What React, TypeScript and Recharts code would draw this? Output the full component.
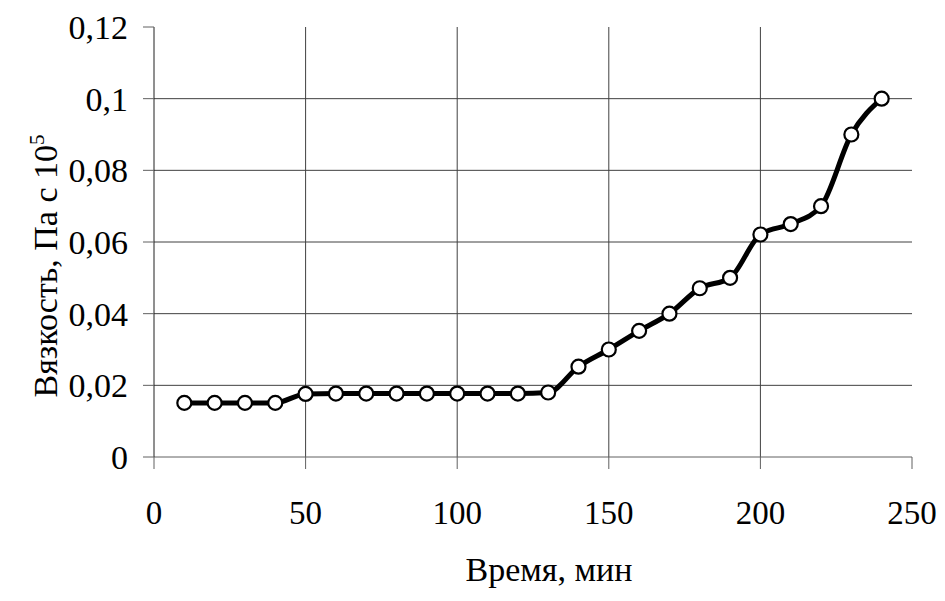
import React from "react";
import { LineChart, Line, XAxis, YAxis, CartesianGrid } from "recharts";

const timeMin = [10, 20, 30, 40, 50, 60, 70, 80, 90, 100, 110, 120, 130, 140, 150, 160, 170, 180, 190, 200, 210, 220, 230, 240];
const viscosity = [0.0151, 0.0151, 0.0151, 0.0151, 0.0176, 0.0177, 0.0177, 0.0177, 0.0177, 0.0177, 0.0177, 0.0177, 0.018, 0.0252, 0.03, 0.0352, 0.04, 0.0471, 0.05, 0.0621, 0.065, 0.07, 0.09, 0.1];
const xTicks = [0, 50, 100, 150, 200, 250];
const yTicks = [0, 0.02, 0.04, 0.06, 0.08, 0.1, 0.12];
const xGrid = [50, 100, 150, 200];
const yGrid = [0.02, 0.04, 0.06, 0.08, 0.1];
const xTitle = "Время, мин";
const yTitle = "Вязкость, Па с 10";
const yTitleSup = "5";

const data = timeMin.map((t, i) => ({ t, v: viscosity[i] }));

const FONT = '"Liberation Serif", "Times New Roman", "DejaVu Serif", serif';

const fmtY = (v: number) => (v === 0 ? "0" : String(Number(v.toFixed(2))).replace(".", ","));

const YTitle = (props: any) => {
  const vb = props.viewBox || {};
  const cy = vb.y + vb.height / 2 + 24;
  const x = 57;
  return (
    <text
      x={x}
      y={cy}
      transform={`rotate(-90, ${x}, ${cy})`}
      textAnchor="middle"
      fontFamily={FONT}
      fontSize={34}
      fill="#000"
    >
      {yTitle}
      <tspan fontSize={21} dy={-13}>{yTitleSup}</tspan>
    </text>
  );
};

export default function App() {
  return (
    <div style={{ position: "absolute", left: 0, top: 0, width: 945, height: 601, background: "#fff" }}>
      <LineChart
        width={945}
        height={601}
        data={data}
        margin={{ top: 27, right: 33, bottom: 0, left: 0 }}
      >
        <CartesianGrid
          stroke="#404040"
          strokeWidth={1}
          horizontalValues={yGrid}
          verticalValues={xGrid}
        />
        <XAxis
          dataKey="t"
          type="number"
          domain={[0, 250]}
          ticks={xTicks}
          height={144}
          tickSize={12}
          tickMargin={32}
          axisLine={{ stroke: "#606060", strokeWidth: 1 }}
          tickLine={{ stroke: "#606060", strokeWidth: 1 }}
          tick={{ fontFamily: FONT, fontSize: 33, fill: "#000" }}
          interval={0}
          label={{ value: xTitle, position: "insideBottom", offset: 20, dx: 16, fontFamily: FONT, fontSize: 34, fill: "#000" }}
        />
        <YAxis
          type="number"
          domain={[0, 0.12]}
          ticks={yTicks}
          width={154}
          tickSize={11}
          tickMargin={15}
          tickFormatter={fmtY}
          axisLine={{ stroke: "#202020", strokeWidth: 1 }}
          tickLine={{ stroke: "#606060", strokeWidth: 1 }}
          tick={{ fontFamily: FONT, fontSize: 34, fill: "#000" }}
          interval={0}
          label={<YTitle />}
        />
        <Line
          type="monotone"
          dataKey="v"
          stroke="#000"
          strokeWidth={5}
          dot={{ r: 7, fill: "#fff", stroke: "#000", strokeWidth: 2.2 }}
          isAnimationActive={false}
        />
      </LineChart>
    </div>
  );
}
